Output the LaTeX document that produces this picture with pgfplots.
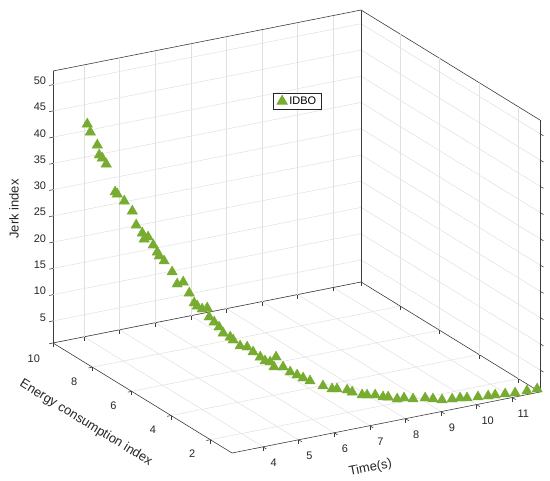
\documentclass[border=0pt]{standalone}
\usepackage{fontspec}
\setmainfont{Liberation Sans}
\usepackage{pgfplots}
\pgfplotsset{compat=1.18}
\usetikzlibrary{calc}
\definecolor{mgreen}{rgb}{0.466,0.674,0.188}
\definecolor{axgray}{rgb}{0.15,0.15,0.15}
\pgfplotstableread{
t E J
3.766 9.41 43.00
3.791 9.30 41.69
3.849 9.05 39.72
3.865 8.98 37.96
3.889 8.87 37.60
3.923 8.73 36.74
3.996 8.41 32.06
4.013 8.33 31.82
4.071 8.08 30.98
4.136 7.79 29.66
4.168 7.65 27.28
4.234 7.46 26.10
4.255 7.40 25.07
4.298 7.28 25.68
4.353 7.12 24.45
4.395 6.99 23.34
4.417 6.93 22.70
4.471 6.78 22.03
4.558 6.53 20.40
4.612 6.37 18.40
4.677 6.18 19.12
4.741 5.99 17.37
4.796 5.84 15.76
4.828 5.74 15.36
4.881 5.59 15.07
4.936 5.43 15.55
4.957 5.37 13.95
5.011 5.21 13.29
5.065 5.06 12.62
5.108 4.93 11.71
5.184 4.71 11.35
5.217 4.62 10.95
5.323 4.46 10.04
5.428 4.29 10.09
5.506 4.13 9.41
5.613 3.96 8.69
5.688 3.85 8.10
5.763 3.73 8.08
5.854 3.59 9.23
5.824 3.64 7.26
5.973 3.45 7.49
6.078 3.28 6.78
6.185 3.12 6.44
6.275 2.98 6.07
6.425 2.90 5.49
6.702 2.74 4.53
6.895 2.63 3.96
7.001 2.57 3.95
7.214 2.44 3.76
7.322 2.38 3.37
7.535 2.26 2.80
7.641 2.20 2.79
7.813 2.10 2.79
7.984 2.01 2.40
8.090 1.94 2.40
8.282 1.83 2.02
8.431 1.75 2.20
8.623 1.64 2.01
8.879 1.49 2.19
9.050 1.40 2.00
9.242 1.29 1.80
9.506 1.25 1.71
9.717 1.23 1.67
9.901 1.21 1.47
10.192 1.18 1.35
10.456 1.14 1.26
10.641 1.12 1.25
10.905 1.09 1.16
11.169 1.06 1.06
11.486 1.03 1.10
11.749 0.99 1.20
}\idbo
\begin{document}
\begin{tikzpicture}
\begin{axis}[
  x={(35.61bp,7.05bp)}, y={(-19.67bp,12.09bp)}, z={(0bp,5.25bp)},
  xmin=3.13, xmax=11.78, ymin=0.9, ymax=10, zmin=0.8, zmax=52.6,
  xtick={4,...,11}, ytick={2,4,6,8,10}, ztick={5,10,...,50},
  xtick pos=left, ytick pos=left, ztick pos=left,
  grid=major,
  major grid style={draw=black!12, line width=0.5bp},
  axis line style={draw=axgray!90, line width=0.6bp},
  tick style={draw=axgray!90, line width=0.6bp},
  tick align=outside,
  major tick length=4bp,
  /pgf/number format/assume math mode=true,
  ticklabel style={font=\fontsize{11}{13}\selectfont, text=axgray},
  xticklabel style={xshift=3bp, yshift=-6bp},
  yticklabel style={xshift=-8bp, yshift=-6bp},
  legend style={at={(0.452,0.813)}, anchor=north west, draw=axgray, line width=0.6bp,
    font=\fontsize{11}{12}\selectfont, inner xsep=3.5bp, inner ysep=1.5bp},
  legend cell align=left,
]
\addplot3[only marks, mark=triangle*, mark size=6bp, color=mgreen] table[x=t,y=E,z=J] {\idbo};
\addlegendentry{IDBO}
\coordinate (A) at (axis cs:3.13,0.9,0.8);
\end{axis}
\begin{scope}[font=\fontsize{13}{15}\selectfont, text=axgray]
\node[rotate=11.2] at ($(A)+(138.5bp,-15bp)$) {Time(s)};
\node[rotate=-31.6] at ($(A)+(-146bp,30bp)$) {Energy consumption index};
\node[rotate=90] at ($(A)+(-218bp,244bp)$) {Jerk index};
\end{scope}
\pgfresetboundingbox
\path[use as bounding box] ($(A)+(-232bp,-28bp)$) rectangle ($(A)+(318bp,453bp)$);
\end{tikzpicture}
\end{document}
